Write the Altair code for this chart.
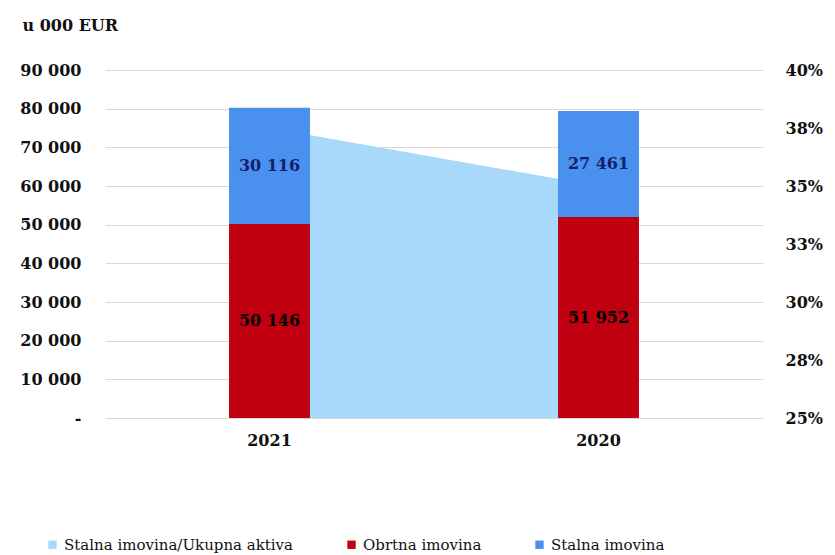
import altair as alt
import pandas as pd

years = ["2021", "2020"]
obrtna = [50146, 51952]
stalna = [30116, 27461]
ratio = [37.5, 35.0]

s_ratio = "Stalna imovina/Ukupna aktiva"
s_obrtna = "Obrtna imovina"
s_stalna = "Stalna imovina"

rows = []
for i, y in enumerate(years):
    rows.append({"year": y, "series": s_obrtna, "value": obrtna[i], "ord": 0, "mid": obrtna[i] / 2})
    rows.append({"year": y, "series": s_stalna, "value": stalna[i], "ord": 1, "mid": obrtna[i] + stalna[i] / 2})
bars_df = pd.DataFrame(rows)
ratio_df = pd.DataFrame({"year": years, "ratio": ratio, "series": [s_ratio] * len(years)})

FONT = "DejaVu Serif"
color_scale = alt.Scale(domain=[s_ratio, s_obrtna, s_stalna],
                        range=["#A8D8FA", "#C00010", "#4A90EE"])
xenc = alt.X("year:N", sort=years,
             scale=alt.Scale(paddingInner=0.754, paddingOuter=0.377),
             axis=alt.Axis(title=None, labelAngle=0, domain=False, ticks=False,
                           labelPadding=14, labelFont=FONT, labelFontSize=16,
                           labelFontWeight="bold", labelColor="#111111"))

area = alt.Chart(ratio_df).mark_area(opacity=1).encode(
    x=xenc,
    y=alt.Y("ratio:Q", scale=alt.Scale(domain=[25, 40], zero=False, nice=False),
            axis=alt.Axis(orient="right", title=None, values=[25, 27.5, 30, 32.5, 35, 37.5, 40],
                          labelExpr="round(datum.value) + '%'", grid=False, domain=False,
                          ticks=False, labelPadding=22, labelFont=FONT, labelFontSize=16,
                          labelFontWeight="bold", labelColor="#111111")),
    y2=alt.datum(25),
    color=alt.Color("series:N", scale=color_scale, sort=[s_ratio, s_obrtna, s_stalna],
                    legend=alt.Legend(title=None, orient="none", direction="horizontal",
                                      legendX=-60, legendY=467, symbolType="square",
                                      symbolSize=70, labelFont=FONT, labelFontSize=15,
                                      labelLimit=0, labelColor="#111111", columnPadding=50)),
)

bars = alt.Chart(bars_df).mark_bar().encode(
    x=xenc,
    y=alt.Y("value:Q", stack="zero", scale=alt.Scale(domain=[0, 90000], nice=False),
            axis=alt.Axis(orient="left", title="u 000 EUR", titleAngle=0, titleX=-83, titleY=-45,
                          titleAlign="left", titleBaseline="middle", titleFont=FONT,
                          titleFontSize=16, titleFontWeight="bold", titleColor="#111111",
                          values=list(range(0, 90001, 10000)),
                          labelExpr="datum.value == 0 ? '-' : replace(format(datum.value, ',d'), ',', ' ')",
                          grid=True, gridColor="#D9D9D9", domain=False, ticks=False,
                          labelPadding=24, labelFont=FONT, labelFontSize=16,
                          labelFontWeight="bold", labelColor="#111111")),
    color=alt.Color("series:N", scale=color_scale),
    order=alt.Order("ord:Q"),
)

labels = alt.Chart(bars_df).mark_text(font=FONT, fontSize=16, fontWeight="bold").transform_calculate(
    lbl="replace(format(datum.value, ',d'), ',', ' ')"
).encode(
    x=xenc,
    y=alt.Y("mid:Q", scale=alt.Scale(domain=[0, 90000], nice=False), axis=None),
    text="lbl:N",
    color=alt.condition(alt.datum.ord == 1, alt.value("#14206B"), alt.value("#000000")),
)

chart = alt.layer(area, bars, labels).resolve_scale(y="independent").properties(
    width=658, height=348,
    autosize=alt.AutoSizeParams(type="none"),
    padding={"left": 105, "top": 70, "right": 72, "bottom": 137},
    background="white",
).configure_view(stroke=None)

chart.save("out.html", embed_options={"renderer": "svg", "actions": False})
